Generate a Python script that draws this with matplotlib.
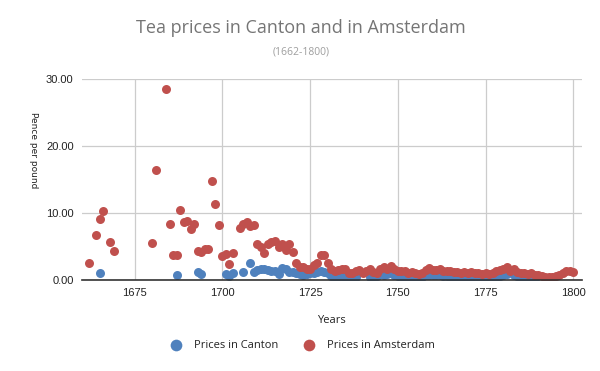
import matplotlib
matplotlib.use("Agg")
import matplotlib.pyplot as plt

# Prices in Canton (pence per pound)
canton_years = ([1665, 1687, 1693, 1694, 1701, 1702, 1703, 1706, 1708]
                + list(range(1709, 1739)) + list(range(1742, 1782))
                + list(range(1783, 1790)))
canton_prices = [1.1, 0.75, 1.2, 0.9, 0.9, 0.6, 1.1, 1.2, 2.5,
                 # 1709-1738
                 1.2, 1.5, 1.7, 1.6, 1.5, 1.3, 1.4, 0.9, 1.8, 1.6,
                 1.2, 1.2, 1.0, 0.9, 0.8, 0.9, 1.0, 1.1, 1.2, 1.3,
                 1.2, 1.0, 0.6, 0.5, 0.4, 0.6, 0.5, 0.3, 0.3, 0.5,
                 # 1742-1781
                 0.4, 0.5, 0.6, 0.9, 0.8, 0.9, 1.0, 0.8, 0.6, 0.6,
                 0.5, 0.4, 0.4, 0.3, 0.3, 0.5, 0.7, 0.8, 0.8, 0.7,
                 0.7, 0.6, 0.6, 0.5, 0.5, 0.5, 0.4, 0.5, 0.4, 0.4,
                 0.3, 0.3, 0.3, 0.3, 0.3, 0.4, 0.5, 0.6, 0.8, 0.9,
                 # 1783-1789
                 0.8, 0.6, 0.5, 0.4, 0.3, 0.2, 0.2]

# Prices in Amsterdam
amst_years = ([1662, 1664, 1665, 1666, 1668, 1669, 1680, 1681, 1684, 1685,
               1686, 1687, 1688, 1689, 1690, 1691, 1692, 1693, 1694, 1695,
               1696, 1697, 1698, 1699, 1700, 1701, 1702, 1703]
              + list(range(1705, 1801)))
amst_prices = [2.5, 6.7, 9.1, 10.3, 5.7, 4.3, 5.6, 16.4, 28.5, 8.4,
               3.7, 3.7, 10.4, 8.7, 8.8, 7.6, 8.3, 4.3, 4.2, 4.6,
               4.7, 14.8, 11.4, 8.2, 3.6, 3.9, 2.4, 4.0,
               # 1705-1800
               7.8, 8.3, 8.6, 8.0, 8.2, 5.4, 5.0, 4.0, 5.4, 5.7,
               5.8, 4.9, 5.4, 4.5, 5.4, 4.2, 2.5, 1.9, 2.0, 1.7,
               1.7, 2.3, 2.5, 3.7, 3.8, 2.5, 1.6, 1.3, 1.5, 1.6,
               1.6, 1.0, 1.1, 1.4, 1.5, 1.1, 1.3, 1.6, 1.2, 1.1,
               1.6, 2.0, 1.7, 2.1, 1.6, 1.4, 1.3, 1.3, 1.0, 1.2,
               1.0, 0.9, 1.1, 1.5, 1.8, 1.5, 1.5, 1.6, 1.4, 1.4,
               1.3, 1.2, 1.2, 1.1, 1.2, 1.1, 1.2, 1.1, 1.0, 0.9,
               1.0, 0.9, 1.1, 1.3, 1.5, 1.6, 1.9, 1.4, 1.7, 1.2,
               1.1, 1.0, 0.9, 1.0, 0.8, 0.7, 0.6, 0.5, 0.5, 0.5,
               0.6, 0.8, 1.1, 1.3, 1.3, 1.2]

x_ticks = [1675, 1700, 1725, 1750, 1775, 1800]
y_ticks = [0, 10, 20, 30]

BLUE = "#4f81bd"
RED = "#c0504d"
GRID = "#cccccc"

fig = plt.figure(figsize=(6, 3.71), dpi=100)
ax = fig.add_axes([0.1367, 0.245, 0.8333, 0.542])

ax.scatter(canton_years, canton_prices, s=42, color=BLUE, linewidths=0,
           label="Prices in Canton", zorder=3)
ax.scatter(amst_years, amst_prices, s=42, color=RED, linewidths=0,
           label="Prices in Amsterdam", zorder=4)

ax.set_xlim(1660, 1802.5)
ax.set_ylim(0, 30)
ax.set_xticks(x_ticks)
ax.set_yticks(y_ticks)
ax.set_yticklabels([f"{v:.2f}" for v in y_ticks])
ax.tick_params(length=0, labelsize=8, colors="#222222", pad=6)
for lab in ax.get_xticklabels() + ax.get_yticklabels():
    lab.set_family("Liberation Sans")
ax.grid(True, color=GRID, linewidth=0.9, zorder=0)
ax.set_axisbelow(True)
for side in ["top", "right", "left"]:
    ax.spines[side].set_visible(False)
ax.spines["bottom"].set_color("#333333")
ax.spines["bottom"].set_linewidth(1.2)
ax.spines["bottom"].set_zorder(5)

fig.text(0.502, 0.924, "Tea prices in Canton and in Amsterdam", ha="center",
         va="center", fontsize=13, color="#757575", family="Open Sans")
fig.text(0.502, 0.86, "(1662-1800)", ha="center", va="center",
         fontsize=7.5, color="#9e9e9e", family="Open Sans")
fig.text(0.552, 0.137, "Years", ha="center", va="center", fontsize=8,
         color="#222222", family="Open Sans")
fig.text(0.055, 0.595, "Pence per pound", ha="center", va="center",
         rotation=270, fontsize=6.5, color="#222222", family="DejaVu Sans")

leg = fig.legend(loc="center", bbox_to_anchor=(0.5, 0.07), ncol=2,
                 frameon=False, fontsize=8, handletextpad=0.6,
                 columnspacing=1.8, markerscale=1.3,
                 prop={"family": "Open Sans", "size": 8})
for t in leg.get_texts():
    t.set_color("#222222")

fig.savefig("out.png", dpi=100)
